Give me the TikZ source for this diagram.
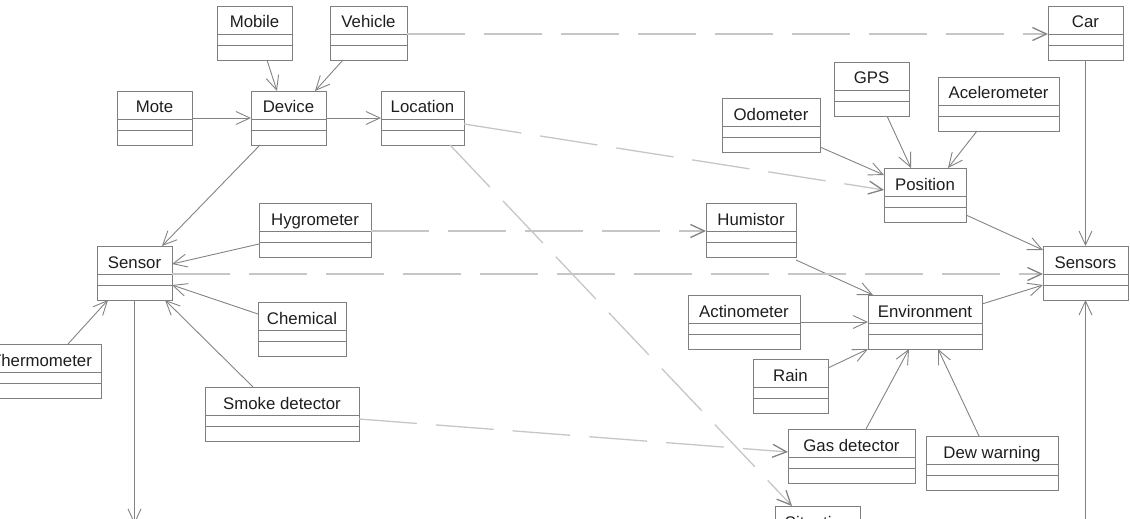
\documentclass[tikz,border=0pt]{standalone}
\usepackage{fontspec}
\setmainfont{Liberation Sans}
\usetikzlibrary{arrows.meta}

\definecolor{boxgray}{HTML}{7F7F7F}
\definecolor{linkgray}{HTML}{838383}
\definecolor{dashgray}{HTML}{C6C6C6}
\definecolor{inkgray}{HTML}{1E1E1E}

\tikzset{
  % UML class box: name compartment plus two empty compartments
  cls/.style={draw=boxgray, line width=0.9pt, anchor=north west,
    inner xsep=0pt, inner ysep=0pt, outer sep=0pt,
    text height=22pt, text depth=32pt, text=inkgray,
    font=\fontsize{16.8}{20}\selectfont,
    path picture={
      \draw[boxgray, line width=0.9pt]
        ([yshift=-28pt]path picture bounding box.north west) --
        ([yshift=-28pt]path picture bounding box.north east);
      \draw[boxgray, line width=0.9pt]
        ([yshift=-39pt]path picture bounding box.north west) --
        ([yshift=-39pt]path picture bounding box.north east);
    }},
  tip/.style={-{Straight Barb[length=14pt,width=13pt]}},
  link/.style={draw=linkgray, line width=0.9pt, tip},
  dep/.style={draw=dashgray, line width=1.3pt, dash pattern=on 58pt off 19pt,
    -{Straight Barb[length=14pt,width=13pt,color=linkgray]}},
}

\begin{document}
\begin{tikzpicture}[x=1pt, y=-1pt]
\useasboundingbox (0,0) rectangle (1130,519);
\clip (0,0) rectangle (1130,519);

% classes
\node[cls, minimum width=75pt]  (mobile)   at (217,6)   {Mobile};
\node[cls, minimum width=77pt]  (vehicle)  at (330,6)   {Vehicle};
\node[cls, minimum width=75pt]  (mote)     at (117,91)  {Mote};
\node[cls, minimum width=75pt]  (device)   at (251,91)  {Device};
\node[cls, minimum width=83pt]  (location) at (381,91)  {Location};
\node[cls, minimum width=75pt]  (car)      at (1048,6)  {Car};
\node[cls, minimum width=75pt]  (gps)      at (834,62)  {GPS};
\node[cls, minimum width=121pt] (acel)     at (938,77)  {Acelerometer};
\node[cls, minimum width=98pt]  (odometer) at (722,98)  {Odometer};
\node[cls, minimum width=82pt]  (position) at (884,168) {Position};
\node[cls, minimum width=112pt] (hygro)    at (259,203) {Hygrometer};
\node[cls, minimum width=90pt]  (humistor) at (706,203) {Humistor};
\node[cls, minimum width=75pt]  (sensor)   at (97,246)  {Sensor};
\node[cls, minimum width=85pt]  (sensors)  at (1043,246) {Sensors};
\node[cls, minimum width=88pt]  (chemical) at (258,302) {Chemical};
\node[cls, minimum width=119pt] (thermo)   at (-18,344) {Thermometer};
\node[cls, minimum width=114pt] (environ)  at (868,295) {Environment};
\node[cls, minimum width=112pt] (actino)   at (688,295) {Actinometer};
\node[cls, minimum width=75pt]  (rain)     at (753,359) {Rain};
\node[cls, minimum width=154pt] (smoke)    at (205,387) {Smoke detector};
\node[cls, minimum width=127pt] (gas)      at (788,429) {Gas detector};
\node[cls, minimum width=132pt] (dew)      at (926,436) {Dew warning};
\node[cls, minimum width=85pt]  (situation) at (775,506) {Situation};

% free ends of the two vertical links
\coordinate (sensorout) at (134.5,524);
\coordinate (sensorsin) at (1085.5,524);

% generalisations / associations
\draw[link] ([xshift=50pt]mobile.south west) -- ([xshift=26pt]device.north west);
\draw[link] ([xshift=13pt]vehicle.south west) -- ([xshift=64pt]device.north west);
\draw[link] (mote.east) -- (device.west);
\draw[link] (device.east) -- (location.west);
\draw[link] ([xshift=9pt]device.south west) -- ([xshift=65pt]sensor.north west);
\draw[link] ([yshift=-41pt]hygro.north west) -- ([yshift=-18pt]sensor.north east);
\draw[link] ([yshift=-12pt]chemical.north west) -- ([yshift=-39pt]sensor.north east);
\draw[link] ([xshift=86pt]thermo.north west) -- ([xshift=11pt]sensor.south west);
\draw[link] ([xshift=48pt]smoke.north west) -- ([xshift=-7pt]sensor.south east);
\draw[link] (sensor.south) -- (sensorout);

\draw[link] ([yshift=-49pt]odometer.north east) -- ([yshift=-7pt]position.north west);
\draw[link] ([xshift=53pt]gps.south west) -- ([xshift=27pt]position.north west);
\draw[link] ([xshift=39pt]acel.south west) -- ([xshift=64pt]position.north west);
\draw[link] ([yshift=-47pt]position.north east) -- ([yshift=-4pt]sensors.north west);
\draw[link] (car.south) -- (sensors.north);
\draw[link] ([yshift=-3pt]humistor.south east) -- ([xshift=5pt]environ.north west);
\draw[link] (actino.east) -- (environ.west);
\draw[link] ([yshift=-9pt]rain.north east) -- (environ.south west);
\draw[link] ([xshift=78pt]gas.north west) -- ([xshift=41pt]environ.south west);
\draw[link] ([xshift=53pt]dew.north west) -- ([xshift=70pt]environ.south west);
\draw[link] ([yshift=-9pt]environ.north east) -- ([yshift=-39pt]sensors.north west);
\draw[link] (sensorsin) -- (sensors.south);

% dependencies
\draw[dep] ([yshift=-28pt]vehicle.north east) -- ([yshift=-28pt]car.north west);
\draw[dep] ([yshift=-33pt]location.north east) -- ([yshift=-22pt]position.north west);
\draw[dep] ([xshift=69pt]location.south west) -- ([xshift=17pt]situation.north west);
\draw[dep] ([yshift=-28pt]hygro.north east) -- ([yshift=-28pt]humistor.north west);
\draw[dep] ([yshift=-28pt]sensor.north east) -- ([yshift=-28pt]sensors.north west);
\draw[dep] ([yshift=-32pt]smoke.north east) -- ([yshift=-23pt]gas.north west);
\end{tikzpicture}
\end{document}
